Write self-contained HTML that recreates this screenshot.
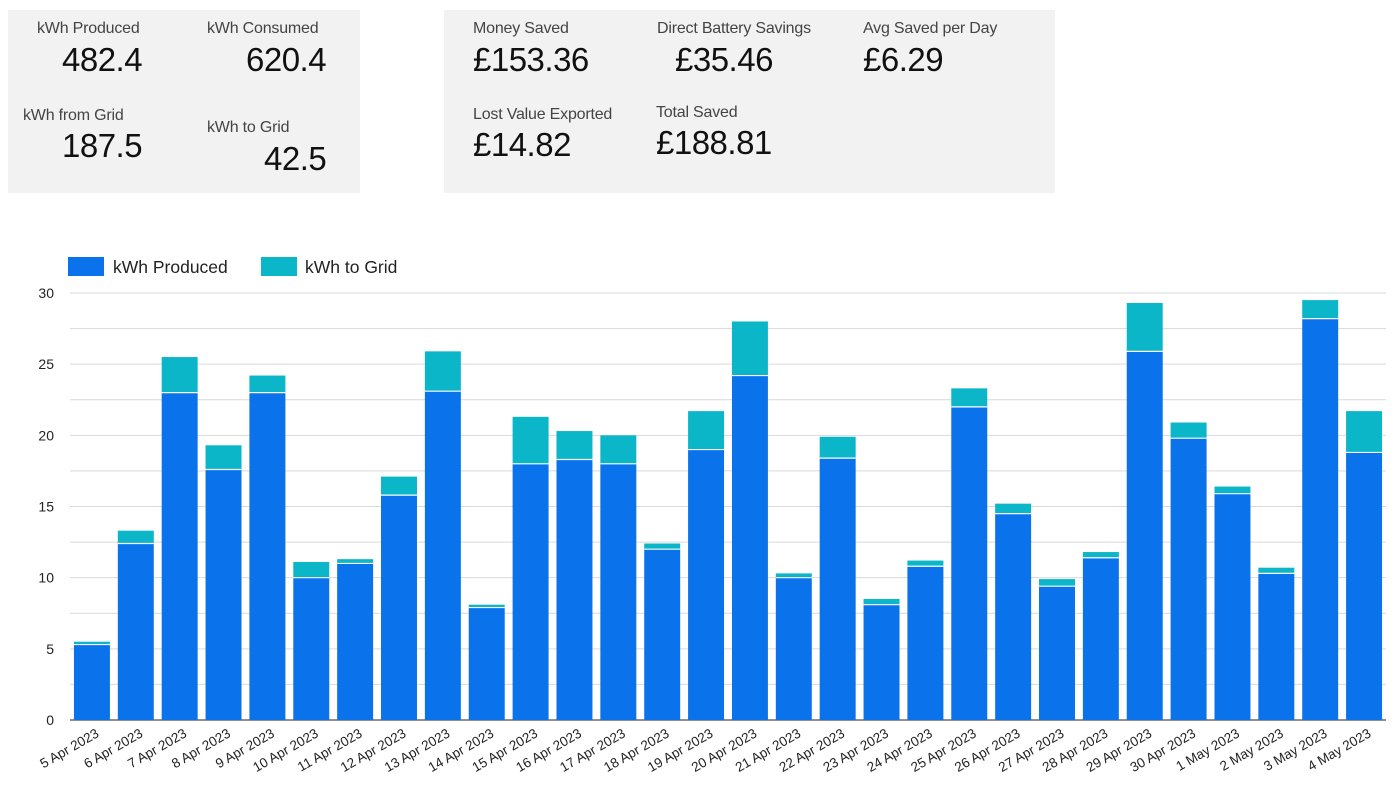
<!DOCTYPE html>
<html><head><meta charset="utf-8"><style>
body{margin:0;width:1400px;height:802px;background:#fff;font-family:"Liberation Sans",sans-serif;position:relative;overflow:hidden}
.panel{position:absolute;background:#f2f2f2;top:10px;height:183px}
.lab{position:absolute;font-size:16px;color:#444;white-space:nowrap;letter-spacing:-0.2px}
.val{position:absolute;font-size:33px;color:#111;white-space:nowrap;letter-spacing:-0.5px}
svg{position:absolute;left:0;top:0}
</style></head><body>
<div class="panel" style="left:8px;width:352px"></div>
<div class="panel" style="left:444px;width:611px"></div>
<div class="lab" style="left:37px;top:20px">kWh Produced</div>
<div class="val" style="left:62px;top:41px">482.4</div>
<div class="lab" style="left:207px;top:20px">kWh Consumed</div>
<div class="val" style="left:246px;top:41px">620.4</div>
<div class="lab" style="left:23px;top:107px">kWh from Grid</div>
<div class="val" style="left:62px;top:127px">187.5</div>
<div class="lab" style="left:207px;top:119px">kWh to Grid</div>
<div class="val" style="left:264px;top:140px">42.5</div>
<div class="lab" style="left:473px;top:20px">Money Saved</div>
<div class="val" style="left:473px;top:41px">£153.36</div>
<div class="lab" style="left:657px;top:20px">Direct Battery Savings</div>
<div class="val" style="left:675px;top:41px">£35.46</div>
<div class="lab" style="left:863px;top:20px">Avg Saved per Day</div>
<div class="val" style="left:863px;top:41px">£6.29</div>
<div class="lab" style="left:473px;top:106px">Lost Value Exported</div>
<div class="val" style="left:473px;top:126px">£14.82</div>
<div class="lab" style="left:656px;top:104px">Total Saved</div>
<div class="val" style="left:656px;top:124px">£188.81</div>
<svg id="chart" width="1400" height="802"></svg>
<script>
const categories=["5 Apr 2023","6 Apr 2023","7 Apr 2023","8 Apr 2023","9 Apr 2023","10 Apr 2023","11 Apr 2023","12 Apr 2023","13 Apr 2023","14 Apr 2023","15 Apr 2023","16 Apr 2023","17 Apr 2023","18 Apr 2023","19 Apr 2023","20 Apr 2023","21 Apr 2023","22 Apr 2023","23 Apr 2023","24 Apr 2023","25 Apr 2023","26 Apr 2023","27 Apr 2023","28 Apr 2023","29 Apr 2023","30 Apr 2023","1 May 2023","2 May 2023","3 May 2023","4 May 2023"];
const produced=[5.3,12.4,23.0,17.6,23.0,10.0,11.0,15.8,23.1,7.9,18.0,18.3,18.0,12.0,19.0,24.2,10.0,18.4,8.1,10.8,22.0,14.5,9.4,11.4,25.9,19.8,15.9,10.3,28.2,18.8];
const toGrid=[0.2,0.9,2.5,1.7,1.2,1.1,0.3,1.3,2.8,0.2,3.3,2.0,2.0,0.4,2.7,3.8,0.3,1.5,0.4,0.4,1.3,0.7,0.5,0.4,3.4,1.1,0.5,0.4,1.3,2.9];
const yTicks=[0,5,10,15,20,25,30];
const gridVals=[0,2.5,5,7.5,10,12.5,15,17.5,20,22.5,25,27.5,30];
const svg=document.getElementById('chart');const NS='http://www.w3.org/2000/svg';
const x0=70,x1=1386,y0=720,y1=293,yMax=30;
const y=v=>y0-(v/yMax)*(y0-y1);
const band=(x1-x0)/categories.length;
const bx=i=>x0+i*band+band*0.09;const bw=band*0.82;
function mk(t,a){const e=document.createElementNS(NS,t);for(const k in a)e.setAttribute(k,a[k]);svg.appendChild(e);return e;}
gridVals.forEach(v=>{const l=mk('line',{x1:x0,x2:x1,y1:y(v),y2:y(v),stroke:v===0?'#222':'#d9d9d9','stroke-width':1});

});
yTicks.forEach(v=>{const t=mk('text',{x:54,y:y(v)+5,'text-anchor':'end','font-size':14,fill:'#222'});t.textContent=v;

});
categories.forEach((c,i)=>{
const p=mk('rect',{x:bx(i),y:y(produced[i]),width:bw,height:y0-y(produced[i]),fill:'#0a73eb'});


const g=mk('rect',{x:bx(i),y:y(produced[i]+toGrid[i]),width:bw,height:y(produced[i])-y(produced[i]+toGrid[i]),fill:'#0ab6c8'});


const s=mk('line',{x1:bx(i),x2:bx(i)+bw,y1:y(produced[i]),y2:y(produced[i]),stroke:'#fff','stroke-width':1.2});


const cx=bx(i)+bw/2+8;
const t=mk('text',{x:cx,y:736,'text-anchor':'end','font-size':13.5,fill:'#222',transform:`rotate(-30 ${cx} 736)`});t.textContent=c;

});
const legend=[["kWh Produced","#0a73eb",68,113],["kWh to Grid","#0ab6c8",261,305]];
legend.forEach(l=>{const r=mk('rect',{x:l[2],y:257,width:36,height:19,fill:l[1]});


const t=mk('text',{x:l[3],y:273,'font-size':17.5,fill:'#222'});t.textContent=l[0];

});
</script>
</body></html>
